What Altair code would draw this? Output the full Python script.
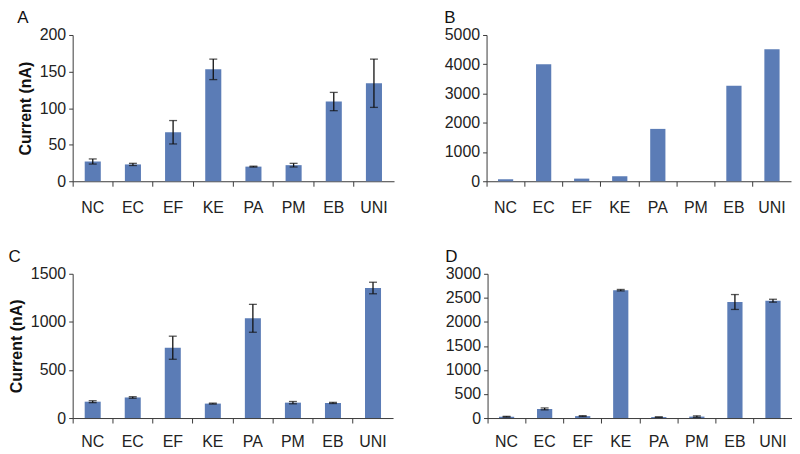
import altair as alt
import pandas as pd

categories = ["NC", "EC", "EF", "KE", "PA", "PM", "EB", "UNI"]

a_values = [27, 23, 67, 153, 20, 22, 109, 134]
a_errors = [3.5, 1.5, 16, 14, 0.6, 2.5, 12.5, 33]

b_values = [68, 4000, 90, 170, 1790, 0, 3265, 4510]

c_values = [170, 214, 731, 150, 1037, 160, 157, 1352]
c_errors = [10, 8, 120, 5, 145, 12, 6, 60]

d_values = [27, 190, 40, 2659, 20, 30, 2413, 2440]
d_errors = [8, 20, 10, 15, 4, 15, 155, 30]

BAR = "#5b7cb6"
FONT = "Liberation Sans"
AX = "#3a3a3a"


def frame(values, errors):
    df = pd.DataFrame({"cat": categories, "value": values})
    if errors is not None:
        df["lo"] = [v - e for v, e in zip(values, errors)]
        df["hi"] = [v + e for v, e in zip(values, errors)]
    return df


def panel(letter, values, errors, ymax, step, w, h, show_title, lpad):
    df = frame(values, errors)
    xaxis = alt.Axis(title=None, labelAngle=0, bandPosition=0,
                     labelFontSize=16, labelPadding=lpad, tickSize=5,
                     labelColor="#222", labelFont=FONT,
                     domainColor=AX, tickColor=AX, grid=False)
    xs = alt.Scale(paddingInner=0, paddingOuter=0)
    yaxis = alt.Axis(values=list(range(0, ymax + 1, step)), tickSize=4,
                     labelPadding=3, labelFontSize=16, labelColor="#222",
                     labelFont=FONT, domainColor=AX, tickColor=AX, grid=False,
                     labelOverlap=False, format="d",
                     title="Current (nA)" if show_title else "",
                     titleFont=FONT, titleFontSize=16, titleFontWeight="bold",
                     titleColor="#111", titlePadding=6)
    ys = alt.Scale(domain=[0, ymax], nice=False)
    x = alt.X("cat:N", sort=categories, scale=xs, axis=xaxis)
    base = alt.Chart(df)
    bars = base.mark_bar(color=BAR, width=alt.RelativeBandSize(0.4)).encode(
        x=x, y=alt.Y("value:Q", scale=ys, axis=yaxis))
    layers = [bars]
    if errors is not None:
        rule = base.mark_rule(color="#111", strokeWidth=1.3).encode(
            x=x, y=alt.Y("lo:Q", scale=ys, axis=yaxis), y2="hi:Q")
        cap_lo = base.mark_tick(color="#111", thickness=1.3, size=8).encode(
            x=x, y=alt.Y("lo:Q", scale=ys, axis=yaxis))
        cap_hi = base.mark_tick(color="#111", thickness=1.3, size=8).encode(
            x=x, y=alt.Y("hi:Q", scale=ys, axis=yaxis))
        layers += [rule, cap_lo, cap_hi]
    return alt.layer(*layers).properties(
        width=w, height=h,
        title=alt.TitleParams(letter, anchor="start", fontSize=17,
                              font=FONT, fontWeight="normal", color="#111",
                              offset=0),
    )


pa = panel("A", a_values, a_errors, 200, 50, 323, 147, True, 13)
pb = panel("B", b_values, None, 5000, 1000, 306, 147, False, 13)
pc = panel("C", c_values, c_errors, 1500, 500, 322, 145, True, 11)
pd_ = panel("D", d_values, d_errors, 3000, 500, 306, 145, False, 11)

top = alt.hconcat(pa, pb, spacing=50)
bottom = alt.hconcat(pc, pd_, spacing=52)
chart = alt.vconcat(top, bottom, spacing=33).configure_view(
    stroke=None).properties(background="white", padding=0)

chart.save("out.html", embed_options={"renderer": "svg", "actions": False})
